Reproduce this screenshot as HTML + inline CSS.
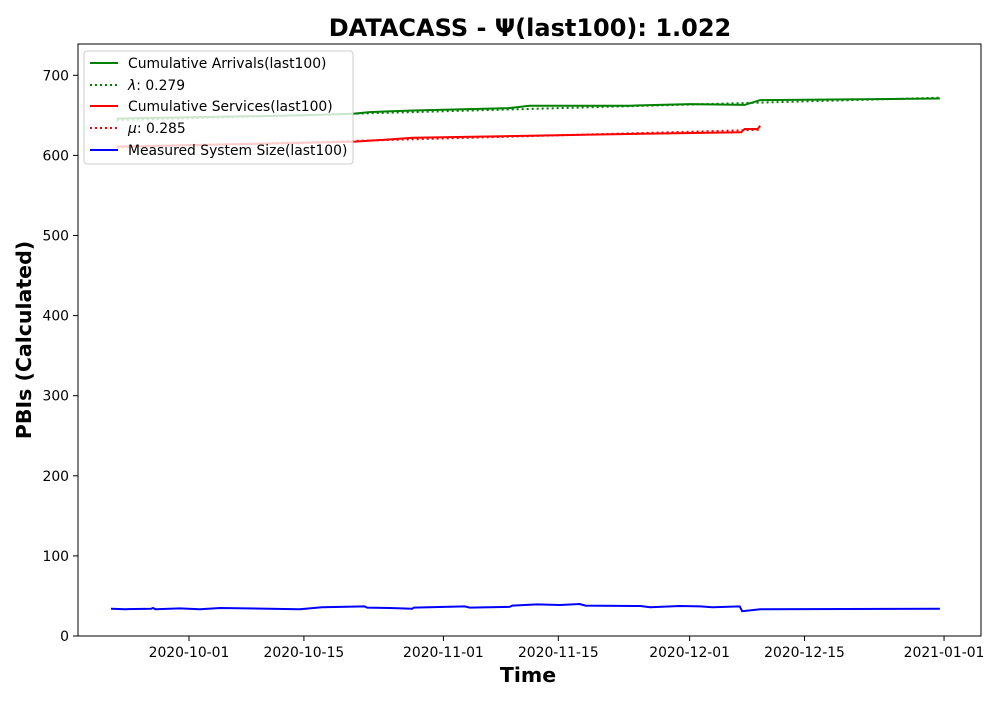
<!DOCTYPE html>
<html><head><meta charset="utf-8"><style>
body{margin:0;background:#fff;}
svg text{font-family:"DejaVu Sans","Liberation Sans",sans-serif;}
</style></head><body>
<svg id="chart" width="1000" height="700" xmlns="http://www.w3.org/2000/svg">
<rect width="1000" height="700" fill="#fff"/>
<text x="530" y="36" text-anchor="middle" font-size="24" font-weight="bold">DATACASS -  Ψ(last100): 1.022</text>
<g id="grid"></g>
<g id="series"></g>
<rect x="78" y="44" width="903" height="592" fill="none" stroke="#000" stroke-width="1"/>
<g id="axes"></g>
<text x="528" y="682" text-anchor="middle" font-size="20.5" font-weight="bold">Time</text>
<text transform="translate(31,340) rotate(-90)" text-anchor="middle" font-size="20.5" font-weight="bold">PBIs (Calculated)</text>
<g>
<rect x="84" y="51" width="269" height="113" rx="3" fill="#fff" fill-opacity="0.8" stroke="#ccc"/>
<line x1="90" y1="63" x2="118" y2="63" stroke="green" stroke-width="2"/>
<text x="128" y="68" font-size="13.9">Cumulative Arrivals(last100)</text>
<line x1="90" y1="85" x2="118" y2="85" stroke="green" stroke-width="2" stroke-dasharray="2,3"/>
<text x="128" y="90" font-size="13.9"><tspan font-style="italic">λ</tspan>: 0.279</text>
<line x1="90" y1="106" x2="118" y2="106" stroke="red" stroke-width="2"/>
<text x="128" y="111" font-size="13.9">Cumulative Services(last100)</text>
<line x1="90" y1="128" x2="118" y2="128" stroke="red" stroke-width="2" stroke-dasharray="2,3"/>
<text x="128" y="133" font-size="13.9"><tspan font-style="italic">μ</tspan>: 0.285</text>
<line x1="90" y1="150" x2="118" y2="150" stroke="blue" stroke-width="2"/>
<text x="128" y="155" font-size="13.9">Measured System Size(last100)</text>
</g>
</svg>
<script>
// x values are days offset from 2020-10-01
const arrDays = [-8.8, 13.5, 20, 22, 27.3, 39, 41.5, 45, 53.7, 61, 67.7, 69.6, 91.5];
const arrVals = [646, 650, 652, 654, 656, 659, 662, 662, 662, 664, 663, 669, 671];
const lamDays = [-8.8, 91.5];
const lamVals = [644, 672];
const svcDays = [-8.8, 20, 27.3, 49, 67.3, 67.7, 69.3, 69.6];
const svcVals = [611, 617, 622, 626, 629, 633, 633, 637];
const muDays = [-8.8, 69.6];
const muVals = [610, 632];
const sizeDays = [-9.5,-7.7,-4.6,-4.4,-4.1,-1.1,1.3,3.8,13.5,16.2,21.4,21.7,24.5,27.2,27.4,33.6,34.2,39.1,39.4,42.4,45.2,47.6,48.3,55,56.2,59.8,62.3,63.8,67.1,67.4,69.2,69.6,91.5];
const sizeVals = [34,33.5,34,35,33.5,34.5,33.5,35,33.5,36,37,35.5,35,34,35.5,37,35.5,36.5,38,39.4,38.7,40,38,37.5,36,37.5,37,36,37,31,33,33.5,34];
const xTickDays = [0, 14, 31, 45, 61, 75, 92];
const xTickLabels = ["2020-10-01","2020-10-15","2020-11-01","2020-11-15","2020-12-01","2020-12-15","2021-01-01"];
const yTicks = [0,100,200,300,400,500,600,700];

const X = d => 189 + d * 8.207;
const Y = v => 636 - v * 0.801;
const NS = "http://www.w3.org/2000/svg";
const series = document.getElementById('series');
const axes = document.getElementById('axes');

function line(days, vals, color, dash, name) {
  const p = document.createElementNS(NS, 'polyline');
  p.setAttribute('points', days.map((d, i) => X(d).toFixed(1) + ',' + Y(vals[i]).toFixed(1)).join(' '));
  p.setAttribute('fill', 'none');
  p.setAttribute('stroke', color);
  p.setAttribute('stroke-width', '2');
  if (dash) p.setAttribute('stroke-dasharray', dash);
  
  
  series.appendChild(p);
}
line(arrDays, arrVals, 'green', null, 'arrivals-line');
line(lamDays, lamVals, 'green', '2,3', 'lambda-line');
line(svcDays, svcVals, 'red', null, 'services-line');
line(muDays, muVals, 'red', '2,3', 'mu-line');
line(sizeDays, sizeVals, 'blue', null, 'system-size-line');

xTickDays.forEach((d, i) => {
  const t = document.createElementNS(NS, 'line');
  t.setAttribute('x1', X(d)); t.setAttribute('x2', X(d));
  t.setAttribute('y1', 636); t.setAttribute('y2', 641);
  t.setAttribute('stroke', '#000');
  
  
  axes.appendChild(t);
  const l = document.createElementNS(NS, 'text');
  l.setAttribute('x', X(d)); l.setAttribute('y', 657);
  l.setAttribute('text-anchor', 'middle'); l.setAttribute('font-size', '13.9');
  l.textContent = xTickLabels[i];
  
  
  axes.appendChild(l);
});
yTicks.forEach(v => {
  const t = document.createElementNS(NS, 'line');
  t.setAttribute('x1', 73); t.setAttribute('x2', 78);
  t.setAttribute('y1', Y(v)); t.setAttribute('y2', Y(v));
  t.setAttribute('stroke', '#000');
  
  
  axes.appendChild(t);
  const l = document.createElementNS(NS, 'text');
  l.setAttribute('x', 69); l.setAttribute('y', Y(v) + 5);
  l.setAttribute('text-anchor', 'end'); l.setAttribute('font-size', '13.9');
  l.textContent = v;
  
  
  axes.appendChild(l);
});
</script>
</body></html>
